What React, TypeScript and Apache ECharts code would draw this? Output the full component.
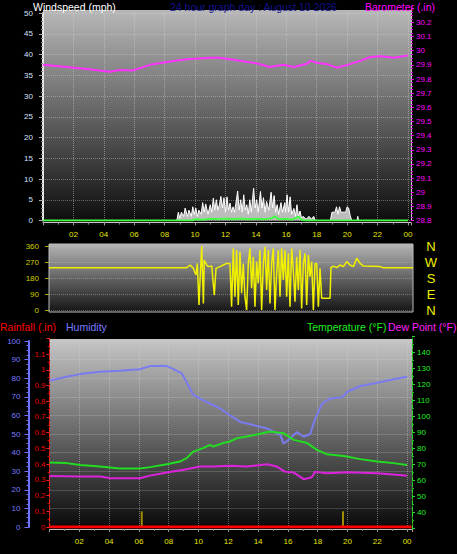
import React, { useEffect, useRef } from 'react';
import * as echarts from 'echarts';

// ---- Barometer (.in) ----
const baroTimes = [0, 1.56, 2.87, 4.4, 5.07, 5.9, 7.04, 8.14, 9.45, 11.0, 11.6, 12.3, 14.1, 14.9, 15.8, 16.5, 17.4, 17.6, 18.0, 18.7, 19.3, 20.2, 20.9, 21.5, 22.2, 23.1, 24.0];
const baroValues = [29.9, 29.885, 29.87, 29.852, 29.864, 29.86, 29.9, 29.92, 29.94, 29.95, 29.95, 29.94, 29.91, 29.885, 29.9, 29.885, 29.91, 29.93, 29.915, 29.905, 29.88, 29.905, 29.93, 29.955, 29.96, 29.95, 29.967];

// ---- Wind gust (mph) ----
const gustTimes = [0, 8.8, 8.9, 9.0, 9.1, 9.25, 9.35, 9.5, 9.6, 9.75, 9.85, 9.95, 10.05, 10.15, 10.25, 10.4, 10.5, 10.6, 10.7, 10.85, 11.0, 11.1, 11.2, 11.3, 11.4, 11.5, 11.6, 11.7, 11.8, 11.9, 12.0, 12.1, 12.2, 12.3, 12.4, 12.5, 12.6, 12.7, 12.8, 12.9, 13.0, 13.1, 13.2, 13.3, 13.4, 13.5, 13.6, 13.7, 13.85, 13.95, 14.05, 14.15, 14.3, 14.4, 14.5, 14.6, 14.7, 14.85, 15.0, 15.1, 15.2, 15.3, 15.4, 15.5, 15.65, 15.75, 15.9, 15.95, 16.05, 16.15, 16.25, 16.35, 16.5, 16.6, 16.7, 16.8, 16.9, 17.0, 17.1, 17.3, 17.5, 17.65, 17.8, 17.9, 18.9, 19.0, 19.2, 19.3, 19.4, 19.5, 19.6, 19.9, 20.0, 20.1, 20.2, 20.3, 20.65, 20.7, 20.75, 24.0];
const gustValues = [0, 0, 2, 0.5, 2, 1, 3, 1, 2.5, 1, 3.3, 1.5, 3, 1, 2.5, 1.5, 4.3, 2, 4, 1.5, 3.8, 2, 5.4, 2.5, 5, 2.5, 3.8, 5.8, 3, 5.5, 2, 5.7, 2.5, 4.2, 2, 3.3, 2, 4.5, 7.1, 2.5, 5, 2, 6.2, 2.5, 3.8, 1.5, 5, 2, 7.8, 3, 5, 2, 7, 3, 5.5, 2, 4.6, 2.5, 6.8, 3, 6, 2, 3.8, 1.5, 4.3, 2, 4.3, 2, 6.2, 2, 5.7, 1.5, 2.9, 1, 3.8, 1, 2.3, 0.5, 1, 0.3, 1, 0.3, 1, 0, 0, 2, 2, 3.3, 1.5, 3.3, 2, 2, 3.3, 3, 1.2, 0, 0, 1, 0, 0];

// ---- Average wind (mph) ----
const avgTimes = [0, 9.8, 10.0, 10.5, 11.0, 11.5, 12.0, 12.5, 13.0, 13.5, 14.0, 14.5, 15.0, 15.25, 15.5, 16.0, 16.4, 16.8, 17.0, 17.3, 24.0];
const avgValues = [0, 0, 0.3, 0.2, 0.4, 0.3, 0.5, 0.3, 0.5, 0.3, 0.4, 0.3, 0.5, 1.0, 0.3, 0.4, 0.2, 0.9, 0.2, 0, 0];

// ---- Wind direction (deg) ----
const dirTimes = [0, 8.75, 9.08, 9.3, 9.52, 9.69, 9.78, 9.89, 9.96, 10.07, 10.18, 10.24, 10.4, 10.51, 10.73, 10.9, 11.01, 11.27, 11.49, 11.71, 11.93, 12.04, 12.15, 12.26, 12.37, 12.48, 12.59, 12.7, 12.81, 12.92, 13.03, 13.14, 13.25, 13.36, 13.47, 13.58, 13.69, 13.8, 13.91, 14.02, 14.13, 14.24, 14.35, 14.46, 14.57, 14.68, 14.79, 14.9, 15.01, 15.12, 15.23, 15.34, 15.45, 15.56, 15.67, 15.78, 15.89, 16.0, 16.11, 16.22, 16.33, 16.44, 16.55, 16.66, 16.77, 16.88, 16.99, 17.1, 17.21, 17.32, 17.43, 17.54, 17.65, 17.76, 17.87, 17.98, 18.53, 18.59, 18.75, 18.97, 19.19, 19.41, 19.63, 19.85, 20.07, 20.29, 20.51, 20.73, 21.82, 22.04, 24.0];
const dirValues = [238, 238, 238, 253, 234, 197, 262, 28, 169, 360, 37, 281, 253, 244, 247, 84, 234, 244, 253, 262, 262, 19, 347, 75, 337, 28, 328, 94, 262, 75, 0, 262, 347, 122, 300, 19, 272, 150, 337, 0, 262, 356, 112, 337, 37, 262, 347, 0, 206, 337, 75, 347, 169, 337, 75, 319, 19, 347, 225, 47, 300, 112, 337, 9, 262, 319, 28, 309, 187, 272, 0, 262, 262, 19, 234, 66, 66, 238, 247, 238, 253, 244, 272, 253, 244, 291, 262, 247, 244, 238, 238];

// ---- Humidity (%) ----
const humTimes = [0, 1.15, 2.05, 3.4, 4.7, 6.07, 6.75, 7.87, 8.3, 8.87, 9.2, 9.65, 10.1, 10.77, 11.44, 12.1, 12.8, 13.7, 14.6, 15.5, 15.7, 15.9, 16.6, 17.06, 17.5, 17.84, 18.3, 18.85, 19.63, 20.0, 20.86, 22.0, 23.1, 24.0];
const humValues = [78.6, 80.8, 82.2, 83.5, 84, 84.8, 86.5, 86.5, 85, 82.6, 78, 71, 69, 66.4, 63.8, 60.1, 56.5, 54.8, 53, 49.4, 45, 45.8, 51, 48.5, 50, 58.4, 66.4, 69.1, 69.7, 72.7, 75.8, 77.6, 79.4, 80.8];

// ---- Temperature (°F) ----
const tempTimes = [0, 1.15, 2.05, 3.4, 4.7, 6.07, 6.75, 7.87, 8.76, 9.2, 9.65, 10.3, 10.77, 11.0, 11.66, 12.1, 12.6, 13.25, 14.15, 14.8, 15.7, 16.4, 17.3, 17.95, 18.6, 19.75, 20.86, 22.0, 23.1, 24.0];
const tempValues = [71.25, 70.9, 69.8, 68.75, 67.5, 67.5, 68.4, 70.25, 71.9, 74, 78.1, 80.25, 82.3, 81.25, 83.4, 84.4, 86.5, 87.5, 89.2, 90.6, 89.6, 85.4, 83.4, 79.2, 76.5, 75.4, 73.4, 71.9, 70.9, 69.8];

// ---- Dew point (°F) ----
const dewTimes = [0, 2.05, 3.4, 4.1, 6.07, 6.75, 7.87, 9.2, 10.1, 11.0, 12.1, 13.25, 14.6, 15.25, 15.8, 16.4, 17.06, 17.6, 17.84, 18.6, 20.0, 22.0, 23.3, 24.0];
const dewValues = [62.9, 62.5, 62.5, 61.5, 61.5, 63.1, 65, 67.1, 68.75, 68.75, 69.2, 68.75, 70.25, 68.75, 65.6, 65, 60.9, 62.1, 65.6, 64.6, 65.25, 64.6, 63.6, 63.1];

// ---- Rainfall (.in) ----
const rainTimes = [0, 24.3];
const rainValues = [0, 0];
const rateTimes = [6.19, 19.7];
const rateValues = [0.1, 0.1];

const compassLabels: Record<number, string> = { 0: 'N', 90: 'E', 180: 'S', 270: 'W', 360: 'N' };

const zip = (t: number[], v: number[]) => t.map((x, i) => [x, v[i]]);
const FONT = '"Liberation Sans", Arial, sans-serif';

const hourLabel = (v: number) => {
  const r = Math.round(v);
  if (Math.abs(v - r) > 1e-6 || r <= 0 || r % 2 !== 0) return '';
  const h = r % 24;
  return h < 10 ? '0' + h : String(h);
};
const dec1 = (v: number) => String(Math.round(v * 10) / 10);

const dotted = (c: string) => ({ show: true, lineStyle: { color: c, type: 'dotted' as const, width: 1 } });

export default function App() {
  const ref = useRef<HTMLDivElement>(null);
  useEffect(() => {
    document.body.style.margin = '0';
    document.body.style.background = '#000';
    const chart = echarts.init(ref.current!, undefined, { renderer: 'svg' });
    const grad = (a: string, b: string) =>
      new echarts.graphic.LinearGradient(0, 0, 0, 1, [
        { offset: 0, color: a },
        { offset: 1, color: b },
      ]);
    const hideX = (grid: number, max: number) => ({
      type: 'value', gridIndex: grid, min: 0, max, show: false,
    });
    const option: any = {
      animation: false,
      backgroundColor: '#000',
      textStyle: { fontFamily: FONT },
      graphic: [
        { type: 'rect', z: -10, silent: true, shape: { x: 43, y: 10, width: 368, height: 215 }, style: { fill: grad('#b8b8b8', '#0a0a0a') } },
        { type: 'rect', z: -10, silent: true, shape: { x: 49, y: 244, width: 364, height: 68 }, style: { fill: grad('#b4b4b4', '#141414'), stroke: '#bdbdbd', lineWidth: 1 } },
        { type: 'rect', z: -10, silent: true, shape: { x: 50, y: 339, width: 362, height: 190 }, style: { fill: grad('#c6c6c6', '#080808') } },
        { type: 'text', z: 10, style: { text: 'Windspeed (mph)', x: 33, y: 6.5, verticalAlign: 'middle', fill: '#ffffff', font: '10.5px ' + FONT } },
        { type: 'text', z: 10, style: { text: '24 hour graph day : August 10 2026', x: 170, y: 6.5, verticalAlign: 'middle', fill: '#12128c', font: '10.5px ' + FONT } },
        { type: 'text', z: 10, style: { text: 'Barometer (.in)', x: 365, y: 6.5, verticalAlign: 'middle', fill: '#ff00ff', font: '10.5px ' + FONT } },
        { type: 'text', z: 10, style: { text: 'Rainfall (.in)', x: 0, y: 327, verticalAlign: 'middle', fill: '#ff0000', font: '10.5px ' + FONT } },
        { type: 'text', z: 10, style: { text: 'Humidity', x: 66, y: 327, verticalAlign: 'middle', fill: '#7b7bff', font: '10.5px ' + FONT } },
        { type: 'text', z: 10, style: { text: 'Temperature (°F)', x: 307, y: 327, verticalAlign: 'middle', fill: '#22ee22', font: '10.5px ' + FONT } },
        { type: 'text', z: 10, style: { text: 'Dew Point (°F)', x: 388, y: 327, verticalAlign: 'middle', fill: '#ff22ff', font: '10.5px ' + FONT } },
      ],
      grid: [
        { left: 43, width: 368, top: 13, height: 207.5 },
        { left: 43, width: 368, top: 8.25, height: 212.25 },
        { left: 49, width: 364, top: 246, height: 64 },
        { left: 49.5, width: 362.5, top: 341, height: 186 },
        { left: 49.5, width: 362.5, top: 338.3, height: 188.7 },
        { left: 49.5, width: 362.5, top: 336.3, height: 192.4 },
      ],
      xAxis: [
        {
          type: 'value', gridIndex: 0, min: 0, max: 24.2, interval: 2, offset: 2,
          axisLine: { show: true, onZero: false, lineStyle: { color: '#c8c8c8', width: 1 } },
          axisTick: { show: true, length: 3, lineStyle: { color: '#999' } },
          minorTick: { show: true, splitNumber: 2, length: 2, lineStyle: { color: '#888' } },
          axisLabel: { color: '#e6e600', fontSize: 8, margin: 8, formatter: hourLabel, showMaxLabel: false, showMinLabel: false },
          splitLine: dotted('rgba(215,215,215,0.45)'),
        },
        hideX(1, 24.2),
        hideX(2, 24),
        {
          type: 'value', gridIndex: 3, min: 0, max: 24.33, interval: 2, offset: 2,
          axisLine: { show: true, onZero: false, lineStyle: { color: '#bdbdbd', width: 1 } },
          axisTick: { show: true, length: 3, lineStyle: { color: '#999' } },
          minorTick: { show: true, splitNumber: 2, length: 2, lineStyle: { color: '#888' } },
          axisLabel: { color: '#e6e600', fontSize: 8, margin: 8, formatter: hourLabel, showMaxLabel: false, showMinLabel: false },
          splitLine: dotted('rgba(215,215,215,0.45)'),
        },
        hideX(4, 24.33),
        hideX(5, 24.33),
      ],
      yAxis: [
        {
          type: 'value', gridIndex: 0, min: 0, max: 50, interval: 5, position: 'left',
          axisLine: { show: true, onZero: false, lineStyle: { color: '#e8e8e8', width: 2 } },
          axisTick: { show: true, length: 4, lineStyle: { color: '#aaa' } },
          minorTick: { show: true, splitNumber: 5, length: 2, lineStyle: { color: '#888' } },
          axisLabel: { color: '#d4e0ff', fontSize: 8, margin: 10 },
          splitLine: dotted('rgba(215,215,215,0.4)'),
        },
        {
          type: 'value', gridIndex: 1, min: 28.8, max: 30.3, interval: 0.1, position: 'right',
          axisLine: { show: true, onZero: false, lineStyle: { color: '#c8c8c8', width: 1 } },
          axisTick: { show: true, length: 3, lineStyle: { color: '#ff00ff' } },
          minorTick: { show: true, splitNumber: 4, length: 2, lineStyle: { color: '#cc00cc' } },
          axisLabel: { color: '#ff00ff', fontSize: 8, margin: 5, showMaxLabel: false, formatter: dec1 },
          splitLine: { show: false },
        },
        {
          type: 'value', gridIndex: 2, min: 0, max: 360, interval: 90, position: 'left',
          axisLine: { show: false, onZero: false },
          axisTick: { show: true, length: 4, lineStyle: { color: '#b0b000' } },
          axisLabel: { color: '#d0d000', fontSize: 8, margin: 10 },
          splitLine: dotted('rgba(215,215,215,0.35)'),
        },
        {
          type: 'value', gridIndex: 2, min: 0, max: 360, interval: 90, position: 'right',
          axisLine: { show: false, onZero: false }, axisTick: { show: false }, splitLine: { show: false },
          axisLabel: { color: '#f0f000', fontSize: 13, margin: 18, align: 'center', formatter: (v: number) => compassLabels[Math.round(v)] ?? '' },
        },
        {
          type: 'value', gridIndex: 3, min: 0, max: 100, interval: 10, position: 'left', offset: 21,
          axisLine: { show: true, onZero: false, lineStyle: { color: '#7070ff', width: 2 } },
          axisTick: { show: true, length: 4, lineStyle: { color: '#7070ff' } },
          minorTick: { show: true, splitNumber: 4, length: 2, lineStyle: { color: '#7070ff' } },
          axisLabel: { color: '#7b7bff', fontSize: 8, margin: 8 },
          splitLine: dotted('rgba(215,215,215,0.4)'),
        },
        {
          type: 'value', gridIndex: 4, min: 0, max: 1.2, interval: 0.1, position: 'left',
          axisLine: { show: true, onZero: false, lineStyle: { color: '#ff2020', width: 1, type: 'dashed' } },
          axisTick: { show: true, length: 3, lineStyle: { color: '#ff2020' } },
          minorTick: { show: true, splitNumber: 2, length: 2, lineStyle: { color: '#dd0000' } },
          axisLabel: { color: '#ee0000', fontSize: 8, margin: 4, showMaxLabel: false, formatter: dec1 },
          splitLine: { show: false },
        },
        {
          type: 'value', gridIndex: 5, min: 30, max: 150, interval: 10, position: 'right',
          axisLine: { show: true, onZero: false, lineStyle: { color: '#22dd22', width: 1, type: 'dashed' } },
          axisTick: { show: true, length: 3, lineStyle: { color: '#22dd22' } },
          minorTick: { show: true, splitNumber: 2, length: 2, lineStyle: { color: '#22bb22' } },
          axisLabel: { color: '#22ee22', fontSize: 8, margin: 5, showMinLabel: false, showMaxLabel: false },
          splitLine: { show: false },
        },
      ],
      series: [
        {
          type: 'line', name: 'Gust', xAxisIndex: 0, yAxisIndex: 0, data: zip(gustTimes, gustValues),
          symbol: 'none', lineStyle: { color: '#ffffff', width: 1 }, areaStyle: { color: '#cfcfcf', opacity: 0.9 },
        },
        {
          type: 'line', name: 'Average', xAxisIndex: 0, yAxisIndex: 0, data: zip(avgTimes, avgValues),
          symbol: 'none', lineStyle: { color: '#44ff44', width: 2 },
        },
        {
          type: 'line', name: 'Barometer', xAxisIndex: 1, yAxisIndex: 1, data: zip(baroTimes, baroValues),
          symbol: 'none', lineStyle: { color: '#ff33ff', width: 2 },
        },
        {
          type: 'line', name: 'Direction', xAxisIndex: 2, yAxisIndex: 2, data: zip(dirTimes, dirValues),
          symbol: 'none', lineStyle: { color: '#f0f000', width: 1.5 },
        },
        {
          type: 'line', name: 'Humidity', xAxisIndex: 3, yAxisIndex: 4, data: zip(humTimes, humValues),
          symbol: 'none', lineStyle: { color: '#7b7bf0', width: 2 },
        },
        {
          type: 'line', name: 'Rainfall', xAxisIndex: 4, yAxisIndex: 5, data: zip(rainTimes, rainValues),
          symbol: 'none', lineStyle: { color: '#ff0000', width: 3 },
        },
        {
          type: 'bar', name: 'Rain rate', xAxisIndex: 4, yAxisIndex: 5, data: zip(rateTimes, rateValues),
          barWidth: 2, itemStyle: { color: '#a08c00' },
        },
        {
          type: 'line', name: 'Temperature', xAxisIndex: 5, yAxisIndex: 6, data: zip(tempTimes, tempValues),
          symbol: 'none', lineStyle: { color: '#22dd22', width: 2 },
        },
        {
          type: 'line', name: 'Dew Point', xAxisIndex: 5, yAxisIndex: 6, data: zip(dewTimes, dewValues),
          symbol: 'none', lineStyle: { color: '#dd22dd', width: 2 },
        },
      ],
    };
    chart.setOption(option);
    return () => chart.dispose();
  }, []);
  return <div ref={ref} style={{ position: 'fixed', left: 0, top: 0, width: 457, height: 554, background: '#000' }} />;
}
